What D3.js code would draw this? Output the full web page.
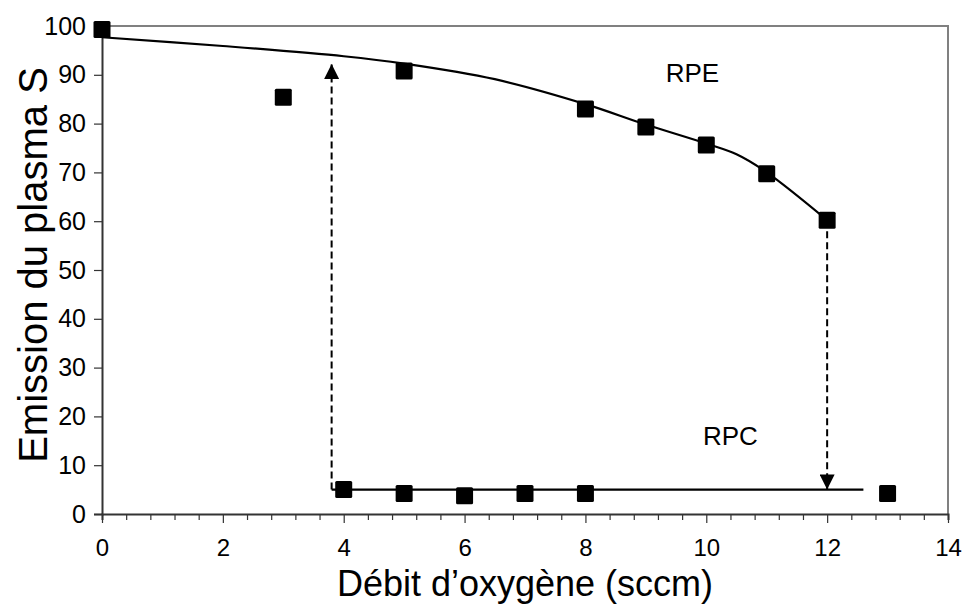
<!DOCTYPE html>
<html>
<head>
<meta charset="utf-8">
<script src="https://cdn.jsdelivr.net/npm/d3@7"></script>
<style>
  html, body { margin: 0; padding: 0; background: #fff; }
  svg { display: block; font-family: Arial, "Liberation Sans", sans-serif; }
</style>
</head>
<body>
<svg id="chart" width="966" height="611"></svg>
<script>
// ---- data ----
const rpeX = [0, 3, 5, 8, 9, 10, 11, 12];
const rpeY = [99.3, 85.4, 90.8, 83.0, 79.3, 75.6, 69.7, 60.2];
const rpcX = [4, 5, 6, 7, 8, 13];
const rpcY = [5.0, 4.2, 3.75, 4.2, 4.2, 4.2];
const fitX = [0, 2, 4, 5, 6.5, 8, 9, 10, 10.5, 11, 12];
const fitY = [97.7, 95.9, 93.8, 92.3, 89.1, 84.0, 79.8, 75.9, 73.7, 70.0, 60.2];
const rpcLineX = [3.8, 12.6];
const rpcLineY = [5, 5];
const arrowUpX = [3.8, 3.8];
const arrowUpY = [5, 92.2];
const arrowDownX = [12, 12];
const arrowDownY = [60.2, 5];
const xTicks = [0, 2, 4, 6, 8, 10, 12, 14];
const yTicks = [0, 10, 20, 30, 40, 50, 60, 70, 80, 90, 100];
const labels = [{t: "RPE", x: 9.77, y: 88.6}, {t: "RPC", x: 10.4, y: 14.2}];

const svg = d3.select("#chart");
const x = d3.scaleLinear().domain([0, 14]).range([102, 948]);
const y = d3.scaleLinear().domain([0, 100]).range([514, 26]);

// frame (top and right, gray)
svg.append("path")
  .attr("d", `M${x(0)},${y(100)}H${x(14)}V${y(0)}`)
  .attr("fill", "none").attr("stroke", "#808080").attr("stroke-width", 2);

// x axis with minor ticks
const xAxis = svg.append("g").attr("transform", `translate(0,${y(0)})`);
xAxis.call(d3.axisBottom(x).tickValues(d3.range(0, 14.001, 0.4)).tickSize(6).tickFormat(""));
xAxis.call(g => g.selectAll(".tick").filter(d => Math.abs(d / 2 - Math.round(d / 2)) < 1e-6).select("line").attr("y2", 9));
const xMaj = svg.append("g").attr("transform", `translate(0,${y(0)})`)
  .call(d3.axisBottom(x).tickValues(xTicks).tickSize(9).tickPadding(16).tickFormat(d3.format("d")));
xMaj.select(".domain").remove();
xMaj.selectAll("line").remove();
[xAxis, xMaj].forEach(g => {
  g.attr("font-size", 24).attr("font-family", "Arial, 'Liberation Sans', sans-serif");
  g.select(".domain").attr("stroke", "#333").attr("stroke-width", 2);
  g.selectAll("line").attr("stroke", "#333").attr("stroke-width", 1.2);
  g.selectAll("text").attr("fill", "#000");
});

// y axis
const yAxis = svg.append("g").attr("transform", `translate(${x(0)},0)`)
  .call(d3.axisLeft(y).tickValues(yTicks).tickSize(8).tickPadding(8).tickFormat(d3.format("d")));
yAxis.attr("font-size", 25).attr("font-family", "Arial, 'Liberation Sans', sans-serif");
yAxis.select(".domain").attr("stroke", "#333").attr("stroke-width", 2);
yAxis.selectAll("line").attr("stroke", "#333").attr("stroke-width", 1.2);
yAxis.selectAll("text").attr("fill", "#000");

// fit curve
const line = d3.line().x(d => x(d[0])).y(d => y(d[1])).curve(d3.curveCatmullRom.alpha(0.5));
svg.append("path").datum(d3.zip(fitX, fitY)).attr("d", line)
  .attr("fill", "none").attr("stroke", "#000").attr("stroke-width", 2.2);

// RPC line
svg.append("path").datum(d3.zip(rpcLineX, rpcLineY)).attr("d", d3.line().x(d => x(d[0])).y(d => y(d[1])))
  .attr("fill", "none").attr("stroke", "#000").attr("stroke-width", 2.2);

// arrows
const defs = svg.append("defs");
defs.append("marker").attr("id", "ah").attr("viewBox", "0 0 10 10").attr("refX", 10).attr("refY", 5)
  .attr("markerWidth", 16).attr("markerHeight", 15).attr("markerUnits", "userSpaceOnUse")
  .attr("orient", "auto").append("path").attr("d", "M0,0L10,5L0,10Z").attr("fill", "#000");
[[arrowUpX, arrowUpY], [arrowDownX, arrowDownY]].forEach(([ax, ay]) => {
  svg.append("path").datum(d3.zip(ax, ay)).attr("d", d3.line().x(d => x(d[0])).y(d => y(d[1])))
    .attr("fill", "none").attr("stroke", "#000").attr("stroke-width", 2)
    .attr("stroke-dasharray", "7,4").attr("marker-end", "url(#ah)");
});

// markers
const ms = 17;
svg.append("g").selectAll("rect").data(d3.zip(rpeX, rpeY).concat(d3.zip(rpcX, rpcY))).join("rect")
  .attr("x", d => x(d[0]) - ms / 2).attr("y", d => y(d[1]) - ms / 2)
  .attr("width", ms).attr("height", ms).attr("rx", 1.5).attr("fill", "#000");

// labels
svg.append("g").selectAll("text").data(labels).join("text")
  .attr("x", d => x(d.x)).attr("y", d => y(d.y)).attr("text-anchor", "middle")
  .attr("font-size", 26).attr("fill", "#000").text(d => d.t);

// axis titles
svg.append("text").attr("x", (x(0) + x(14)) / 2).attr("y", 596).attr("text-anchor", "middle")
  .attr("font-size", 36).attr("fill", "#000").text("Débit d’oxygène (sccm)");
svg.append("text").attr("transform", `translate(47,265) rotate(-90)`).attr("text-anchor", "middle")
  .attr("font-size", 40).attr("fill", "#000").text("Emission du plasma S");
</script>
</body>
</html>
